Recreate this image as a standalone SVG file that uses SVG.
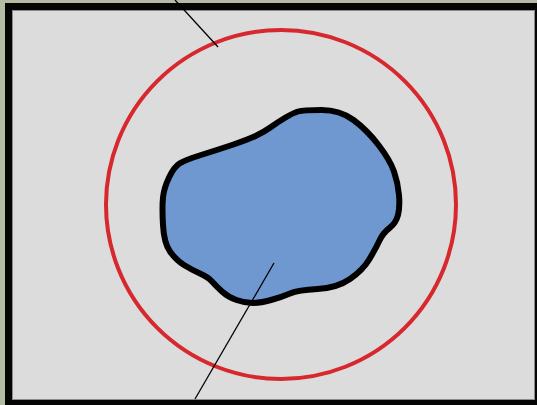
<svg xmlns="http://www.w3.org/2000/svg" width="537" height="405" viewBox="0 0 537 405">
  <style>
    .pointer { stroke: #000; stroke-width: 1.3; fill: none; }
  </style>
  <g id="frame">
    <rect x="0" y="0" width="537" height="405" fill="#b4bca4"/>
    <rect x="5" y="3" width="532" height="402" fill="#050505"/>
    <rect x="12.5" y="10.5" width="522" height="389" fill="#dcdcdc" stroke="#8a8a8a" stroke-width="1"/>
  </g>
  <g id="ring">
    <ellipse cx="281" cy="204.5" rx="175" ry="174.5" fill="none" stroke="#d7282e" stroke-width="4"/>
  </g>
  <g id="blob">
    <path d="M298,111.5 Q303,110 321.5,110 Q340,110 353.5,120 Q367,130 378.5,145 Q390,160 394,171.5 Q398,183 399,195 Q400,207 398,215 Q396,223 389.5,228 Q383,233 379.5,240.5 Q376,248 369.5,259 Q363,270 350,279 Q337,288 317.5,289 Q298,290 290,293.5 Q282,297 271,300 Q260,303 252.5,303 Q245,303 236.5,300 Q228,297 222,291.5 Q216,286 212,281.5 Q208,277 200,273.5 Q192,270 184,265 Q176,260 170,251.5 Q164,243 163,225 Q162,207 163,197.5 Q164,188 169,177.5 Q174,167 179.5,163.5 Q185,160 201,155 Q217,150 232,145 Q247,140 255.5,136 Q264,132 271,127 Q278,122 285.5,117.5 Q293,113 298,111.5 Z" fill="#6f98d1" stroke="#000" stroke-width="6" stroke-linejoin="round"/>
  </g>
  <g id="connectors">
    <line class="pointer" x1="175" y1="0" x2="218" y2="47"/>
    <line class="pointer" x1="274" y1="263" x2="195" y2="399"/>
  </g>
</svg>
